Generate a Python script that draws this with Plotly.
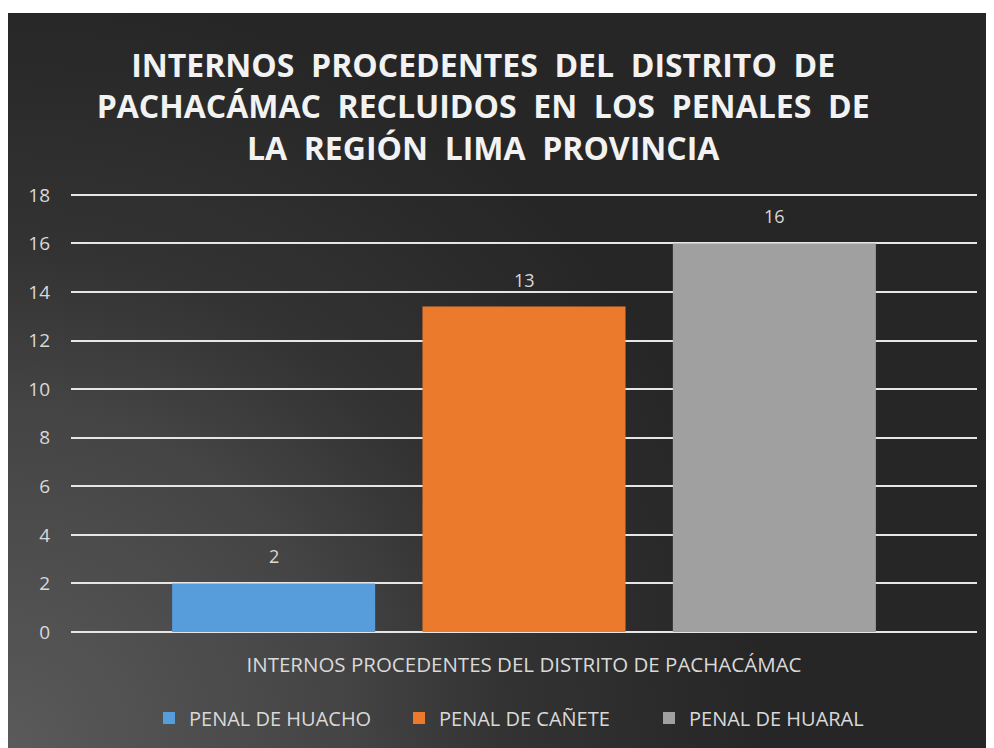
import base64
import plotly.graph_objects as go

category = ["INTERNOS PROCEDENTES DEL DISTRITO DE PACHACÁMAC"]
series_names = ["PENAL DE HUACHO", "PENAL DE CAÑETE", "PENAL DE HUARAL"]
huacho = [2]
canete = [13.4]
huaral = [16]
series_values = [huacho, canete, huaral]
colors = ["#579ddc", "#ec7a2c", "#a0a0a0"]
y_ticks = [0, 2, 4, 6, 8, 10, 12, 14, 16, 18]

# page body has an 8px margin; coordinates below are in figure pixels
W, H = 994, 748
L, R, T, B = 63, 25, 182, 124
pw, ph = W - L - R, H - T - B
BARGAP, GROUPGAP = 0.171, 0.189

# background gradient (radial, lighter bottom-left)
top_white = 5
bw, bh = W, H - top_white
cy = (H - 8) - top_white
svg = f'''<svg xmlns="http://www.w3.org/2000/svg" width="{bw}" height="{bh}" viewBox="0 0 {bw} {bh}" preserveAspectRatio="none">
<defs><radialGradient id="g" gradientUnits="userSpaceOnUse" cx="0" cy="{cy}" r="760">
<stop offset="0" stop-color="#5a5a5a"/>
<stop offset="0.45" stop-color="#444444"/>
<stop offset="0.65" stop-color="#333333"/>
<stop offset="1" stop-color="#262626"/>
</radialGradient></defs>
<rect width="{bw}" height="{bh}" fill="url(#g)"/></svg>'''
src = "data:image/svg+xml;base64," + base64.b64encode(svg.encode()).decode()

fig = go.Figure()
n = len(series_names)
annotations = []
for i, (name, vals, col) in enumerate(zip(series_names, series_values, colors)):
    fig.add_trace(go.Bar(
        x=category, y=vals, name=name,
        marker=dict(color=col, line=dict(width=0)),
    ))
    slot = (1 - BARGAP) / n
    for j, v in enumerate(vals):
        annotations.append(dict(
            x=j + (i - (n - 1) / 2) * slot, y=v, xref="x", yref="y",
            text=f"{v:.0f}", showarrow=False, yanchor="bottom", yshift=13,
            font=dict(color="#d9d9d9", size=18, family="Open Sans"),
        ))

fig.update_layout(
    width=W, height=H,
    margin=dict(l=L, r=R, t=T, b=B),
    paper_bgcolor="white",
    plot_bgcolor="rgba(0,0,0,0)",
    barmode="group", bargap=BARGAP, bargroupgap=GROUPGAP,
    font=dict(family="Open Sans", color="#d9d9d9"),
    title=dict(
        text="INTERNOS  PROCEDENTES  DEL  DISTRITO  DE<br>PACHACÁMAC  RECLUIDOS  EN  LOS  PENALES  DE<br>LA  REGIÓN  LIMA  PROVINCIA",
        x=0.478, xanchor="center", y=0.908, yanchor="middle", yref="container",
        font=dict(family="Open Sans", size=32, color="#f2f2f2", weight="bold"),
    ),
    showlegend=True,
    legend=dict(
        orientation="h", x=0.5, xanchor="center", y=(624 - T - 710 + T) / ph + (T - 187) / ph * 0 if False else (H - B - 710) / ph,
        yanchor="middle",
        font=dict(size=20, color="#d9d9d9", family="Open Sans"),
        entrywidth=205, bgcolor="rgba(0,0,0,0)", traceorder="normal",
    ),
    annotations=annotations,
    images=[dict(
        source=src, xref="paper", yref="paper",
        x=-L / pw, y=(ph + T - top_white) / ph,
        sizex=bw / pw, sizey=bh / ph,
        xanchor="left", yanchor="top", sizing="stretch", layer="below",
    )],
)
fig.update_xaxes(
    showgrid=False, showline=False, zeroline=False,
    tickfont=dict(size=20.5, color="#d9d9d9"), ticklabelstandoff=18,
)
fig.update_yaxes(
    range=[0, 18.2], tickvals=y_ticks, showgrid=True,
    gridcolor="#e6e6e6", gridwidth=1.6, zeroline=True, zerolinecolor="#e6e6e6",
    zerolinewidth=1.6, showline=False,
    tickfont=dict(size=19, color="#d9d9d9"), ticklabelstandoff=20,
)
fig.write_html("out.html")
